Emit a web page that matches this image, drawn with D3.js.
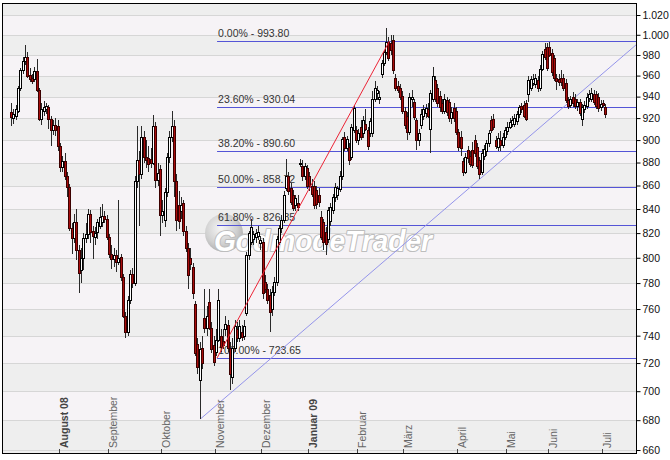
<!DOCTYPE html>
<html><head><meta charset="utf-8">
<script src="https://cdn.jsdelivr.net/npm/d3@7"></script>
<style>
body{margin:0;background:#fff;}
svg{display:block;font-family:"Liberation Sans",Arial,sans-serif;}
</style>
</head><body>
<svg id="chart" width="670" height="460"></svg>
<script>
// ---- data (gold, daily candles, Jul 2008 – Jul 2009) ----
const opens = [926,920,922,927,948,965,974,978,961,958,957,964,946,919,927,928,930,919,909,914,
913,895,876,881,868,859,824,816,829,806,790,800,816,819,836,822,817,821,826,829,
834,832,817,803,799,802,797,801,785,755,743,767,787,780,864,882,870,903,885,884,
883,880,913,865,874,835,831,854,885,903,913,864,843,838,845,822,808,800,793,764,
734,708,731,753,746,765,746,733,728,737,740,736,745,748,731,710,731,745,738,743,
740,757,802,813,815,817,818,812,813,781,775,771,760,773,781,813,824,831,858,868,
858,852,843,845,879,877,868,875,868,860,860,856,852,833,829,821,815,830,839,850,
852,857,868,903,893,894,885,909,909,900,912,906,915,909,906,906,938,943,938,962,
972,983,993,992,995,958,950,948,941,927,922,907,938,935,918,900,914,922,925,928,
910,938,956,948,941,934,927,937,935,920,929,927,907,903,881,872,891,886,891,900,
894,882,872,886,890,897,918,919,900,894,900,896,903,908,912,915,915,917,924,931,
932,934,942,948,953,952,956,948,966,986,988,988,982,977,958,957,958,958,953,937,
932,940,938,931,935,919,928,931,939,938,942,942,940,930,934,930];
const highs = [934,928,932,950,967,978,990,983,967,962,968,976,948,934,936,934,932,922,918,920,
918,897,886,888,872,861,828,836,840,810,808,820,828,840,839,826,825,832,842,844,
838,835,819,810,808,806,848,803,787,758,770,790,792,868,913,890,913,908,900,895,
893,923,916,880,878,848,858,888,908,927,918,870,855,850,848,826,812,808,796,766,
738,735,740,775,762,775,750,740,745,775,745,745,755,752,735,738,752,750,752,748,
752,805,822,832,822,823,826,818,816,786,779,775,778,785,818,827,835,855,883,872,
862,856,852,852,883,882,880,878,872,866,864,860,858,838,832,825,842,845,853,862,
860,873,903,907,904,897,915,932,913,910,918,922,928,912,920,945,955,950,945,975,
985,1007,998,1000,1000,962,955,952,945,930,926,943,946,938,920,910,928,932,933,934,
946,968,960,952,945,938,942,940,938,930,934,930,910,908,884,888,895,890,898,905,
897,885,892,896,900,909,922,924,904,906,908,906,912,916,920,922,924,927,932,934,
936,937,960,960,962,962,960,970,984,992,992,993,986,980,962,962,965,962,957,940,
941,944,942,938,938,933,936,943,946,948,946,945,943,937,937,933];
const lows = [913,915,918,925,945,962,970,958,954,952,954,944,917,914,922,924,910,895,905,904,
890,872,872,865,850,822,803,812,798,772,780,790,812,815,812,799,810,815,823,825,
828,814,800,791,793,789,794,782,753,738,740,764,776,778,858,826,866,880,875,872,
875,878,858,860,818,828,825,850,880,898,850,822,823,832,818,805,775,790,768,725,
712,681,716,742,740,744,727,718,725,735,728,730,740,728,701,705,728,735,735,736,
737,755,798,810,810,812,814,806,768,772,764,743,755,770,778,810,820,828,855,852,
843,838,838,838,876,864,865,857,855,850,840,840,842,814,806,802,812,826,836,846,
848,854,865,890,890,878,882,906,897,896,900,902,908,891,903,903,935,937,933,958,
969,980,974,980,962,945,943,937,924,910,900,905,930,918,891,895,910,918,920,920,
888,935,935,930,926,924,924,922,916,915,916,905,890,886,868,870,880,876,875,885,
874,866,869,882,886,894,906,909,892,890,890,893,900,905,910,912,912,914,920,925,
920,917,935,945,950,948,944,945,964,975,964,978,960,955,946,950,950,945,934,928,
929,930,928,927,922,913,925,928,935,935,932,928,926,927,930,920];
const closes = [921,924,928,948,965,974,978,960,957,955,964,946,919,928,930,931,919,909,914,909,
895,876,881,868,859,824,816,829,806,788,800,816,819,836,821,818,820,829,833,834,
832,817,803,799,802,797,800,785,755,743,767,787,780,864,882,870,903,885,882,879,
880,913,865,871,835,838,854,885,903,913,864,831,830,843,822,808,786,795,772,727,
717,730,720,746,755,746,730,721,737,767,732,733,749,731,712,731,747,738,747,739,
747,802,820,825,819,820,821,814,772,775,767,758,773,781,815,824,831,852,868,855,
846,841,849,842,880,868,877,860,860,853,843,844,846,817,813,811,839,842,850,859,
858,868,901,893,901,882,912,929,900,906,903,918,910,895,917,938,948,946,940,972,
983,993,977,985,965,948,946,940,927,914,907,940,940,921,900,906,924,928,929,922,
943,960,938,934,930,927,938,926,920,926,920,907,894,893,872,885,884,879,878,888,
877,870,888,892,897,906,909,912,895,902,896,903,909,912,916,918,920,924,930,928,
922,919,956,957,957,958,948,966,981,978,967,980,963,958,955,954,954,948,937,931,
938,934,931,935,925,930,932,940,942,943,935,931,929,933,932,924];

const monthLabels = ["August 08","September","Oktober","November","Dezember","Januar 09","Februar","März","April","Mai","Juni","Juli"];
const monthStartIndex = [20,41,64,87,107,127,148,168,191,212,230,253];
const yearStartLabels = ["August 08","Januar 09"];
const yTicks = [660,680,700,720,740,760,780,800,820,840,860,880,900,920,940,960,980,1000,1020];
const fibPercents = [0,23.6,38.2,50,61.8,100];
const fibHigh = 993.80, fibLow = 723.65;
const fibStartIndex = 88, fibHighIndex = 162;
const trendIndex = [81,201];
const trendPrice = [681,866];
const watermarkText = "GodmodeTrader";

// ---- layout ----
const L = 3, T = 4, R = 637, B = 454;
const svg = d3.select("#chart");
const defs = svg.append("defs");
const x = d3.scaleLinear().domain([0, closes.length - 1]).range([12, 606.2]);
const y = d3.scaleLog().domain([660, 1020]).range([450, 15]);
const loc = d3.formatLocale({decimal: ",", thousands: ".", grouping: [3], currency: ["", "€"]});
const fmt = loc.format(",");

defs.append("clipPath").attr("id", "plot")
  .append("rect").attr("x", L).attr("y", T).attr("width", R - L).attr("height", B - T);
const g = svg.append("g").attr("clip-path", "url(#plot)");

// background bands
g.append("rect").attr("x", L).attr("y", T).attr("width", R - L).attr("height", B - T).attr("fill", "#eeeeee");
const step = 20;
yTicks.forEach((v, k) => {
  const top = Math.round(y(v + step)), bot = Math.round(y(v));
  g.append("rect").attr("x", L).attr("y", top).attr("width", R - L).attr("height", bot - top)
    .attr("fill", k % 2 === 0 ? "#eeeeee" : "#f6f3f6");
});
// grid lines
g.selectAll("line.grid").data(yTicks).join("line").attr("class", "grid")
  .attr("x1", L).attr("x2", R)
  .attr("y1", d => Math.round(y(d)) + 0.5).attr("y2", d => Math.round(y(d)) + 0.5)
  .attr("stroke", "#d6d6d6").attr("stroke-width", 1).attr("shape-rendering", "crispEdges");

// watermark (logo)
const grad = defs.append("radialGradient").attr("id", "wmg").attr("cx", "42%").attr("cy", "38%").attr("r", "60%");
grad.append("stop").attr("offset", "0%").attr("stop-color", "#f6f6f6");
grad.append("stop").attr("offset", "70%").attr("stop-color", "#d0d0d0");
grad.append("stop").attr("offset", "100%").attr("stop-color", "#b4b4b4");
const wm = g.append("g");
wm.append("circle").attr("cx", 224).attr("cy", 233).attr("r", 19).attr("fill", "url(#wmg)");
wm.append("text").attr("x", 214).attr("y", 251).attr("font-size", 30).attr("font-weight", "bold")
  .attr("font-style", "italic").attr("textLength", 218).attr("lengthAdjust", "spacingAndGlyphs")
  .attr("fill", "#ffffff").attr("stroke", "#bdbdbd").attr("stroke-width", 2.2)
  .attr("paint-order", "stroke").attr("stroke-linejoin", "round")
  .text(watermarkText);

// fibonacci levels (lines and labels, under the candles)
const fibs = fibPercents.map(p => ({p, v: fibHigh - p / 100 * (fibHigh - fibLow)}));
const fg = g.append("g");
fg.selectAll("line").data(fibs).join("line")
  .attr("x1", x(fibStartIndex)).attr("x2", R)
  .attr("y1", d => Math.round(y(d.v)) + 0.5).attr("y2", d => Math.round(y(d.v)) + 0.5)
  .style("stroke", "rgb(84,84,214)").style("stroke-width", "1px");
fg.selectAll("text").data(fibs).join("text")
  .attr("x", x(fibStartIndex) + 1).attr("y", d => Math.round(y(d.v)) - 4)
  .attr("font-size", 10.5).attr("fill", "#333")
  .text(d => d.p.toFixed(2) + "% - " + d.v.toFixed(2));

// trend line (extended to right edge)
const slope = (y(trendPrice[1]) - y(trendPrice[0])) / (x(trendIndex[1]) - x(trendIndex[0]));
g.append("line").attr("x1", x(trendIndex[0])).attr("y1", y(trendPrice[0]))
  .attr("x2", R).attr("y2", y(trendPrice[0]) + slope * (R - x(trendIndex[0])))
  .attr("stroke", "#9494ea").attr("stroke-width", 1);

// candles
const idx = d3.range(closes.length);
const cg = g.append("g").attr("shape-rendering", "crispEdges");
cg.selectAll("line.wick").data(idx).join("line").attr("class", "wick")
  .attr("x1", i => Math.round(x(i)) - 0.5).attr("x2", i => Math.round(x(i)) - 0.5)
  .attr("y1", i => y(highs[i])).attr("y2", i => y(lows[i]))
  .attr("stroke", "#2a2a2a").attr("stroke-width", 1);
cg.selectAll("rect.body").data(idx).join("rect").attr("class", "body")
  .attr("x", i => Math.round(x(i)) - 1.5)
  .attr("y", i => Math.round(y(Math.max(opens[i], closes[i]))) + 0.5)
  .attr("width", 2)
  .attr("height", i => Math.max(1, Math.round(y(Math.min(opens[i], closes[i]))) - Math.round(y(Math.max(opens[i], closes[i])))))
  .attr("fill", i => closes[i] >= opens[i] ? "#ffffff" : "#a80c0c")
  .attr("stroke", i => closes[i] >= opens[i] ? "#000" : "#3c0000").attr("stroke-width", 1);

// red fib anchor line
g.append("line").attr("x1", x(fibStartIndex)).attr("y1", y(fibLow))
  .attr("x2", x(fibHighIndex)).attr("y2", y(fibHigh))
  .attr("stroke", "#ec2436").attr("stroke-width", 1);

// month ticks and labels
const mg = svg.append("g");
mg.selectAll("line.mt").data(monthStartIndex).join("line").attr("class", "mt")
  .attr("x1", i => Math.round(x(i)) + 0.5).attr("x2", i => Math.round(x(i)) + 0.5)
  .attr("y1", B - 5).attr("y2", B).attr("stroke", "#444");
mg.selectAll("text.ml").data(monthLabels).join("text").attr("class", "ml")
  .attr("transform", (d, k) => `translate(${Math.round(x(monthStartIndex[k])) + 9},${B - 6}) rotate(-90)`)
  .attr("font-size", 10.5)
  .attr("font-weight", d => yearStartLabels.includes(d) ? "bold" : "normal")
  .attr("fill", d => yearStartLabels.includes(d) ? "#444" : "#666")
  .text(d => d);

// frame
svg.append("rect").attr("x", L - 0.5).attr("y", T - 0.5).attr("width", R - L).attr("height", B - T)
  .attr("fill", "none").attr("stroke", "#000").attr("stroke-width", 1);

// right axis
const ax = svg.append("g").attr("transform", `translate(${R - 0.5},0)`)
  .call(d3.axisRight(y).tickValues(yTicks).tickFormat(fmt).tickSize(4).tickPadding(2));
ax.select(".domain").remove();
ax.selectAll("line").attr("stroke", "#000");
ax.selectAll("text").attr("font-size", 10.5).attr("fill", "#111").attr("font-family", '"Liberation Sans",Arial,sans-serif');
</script>
</body></html>
